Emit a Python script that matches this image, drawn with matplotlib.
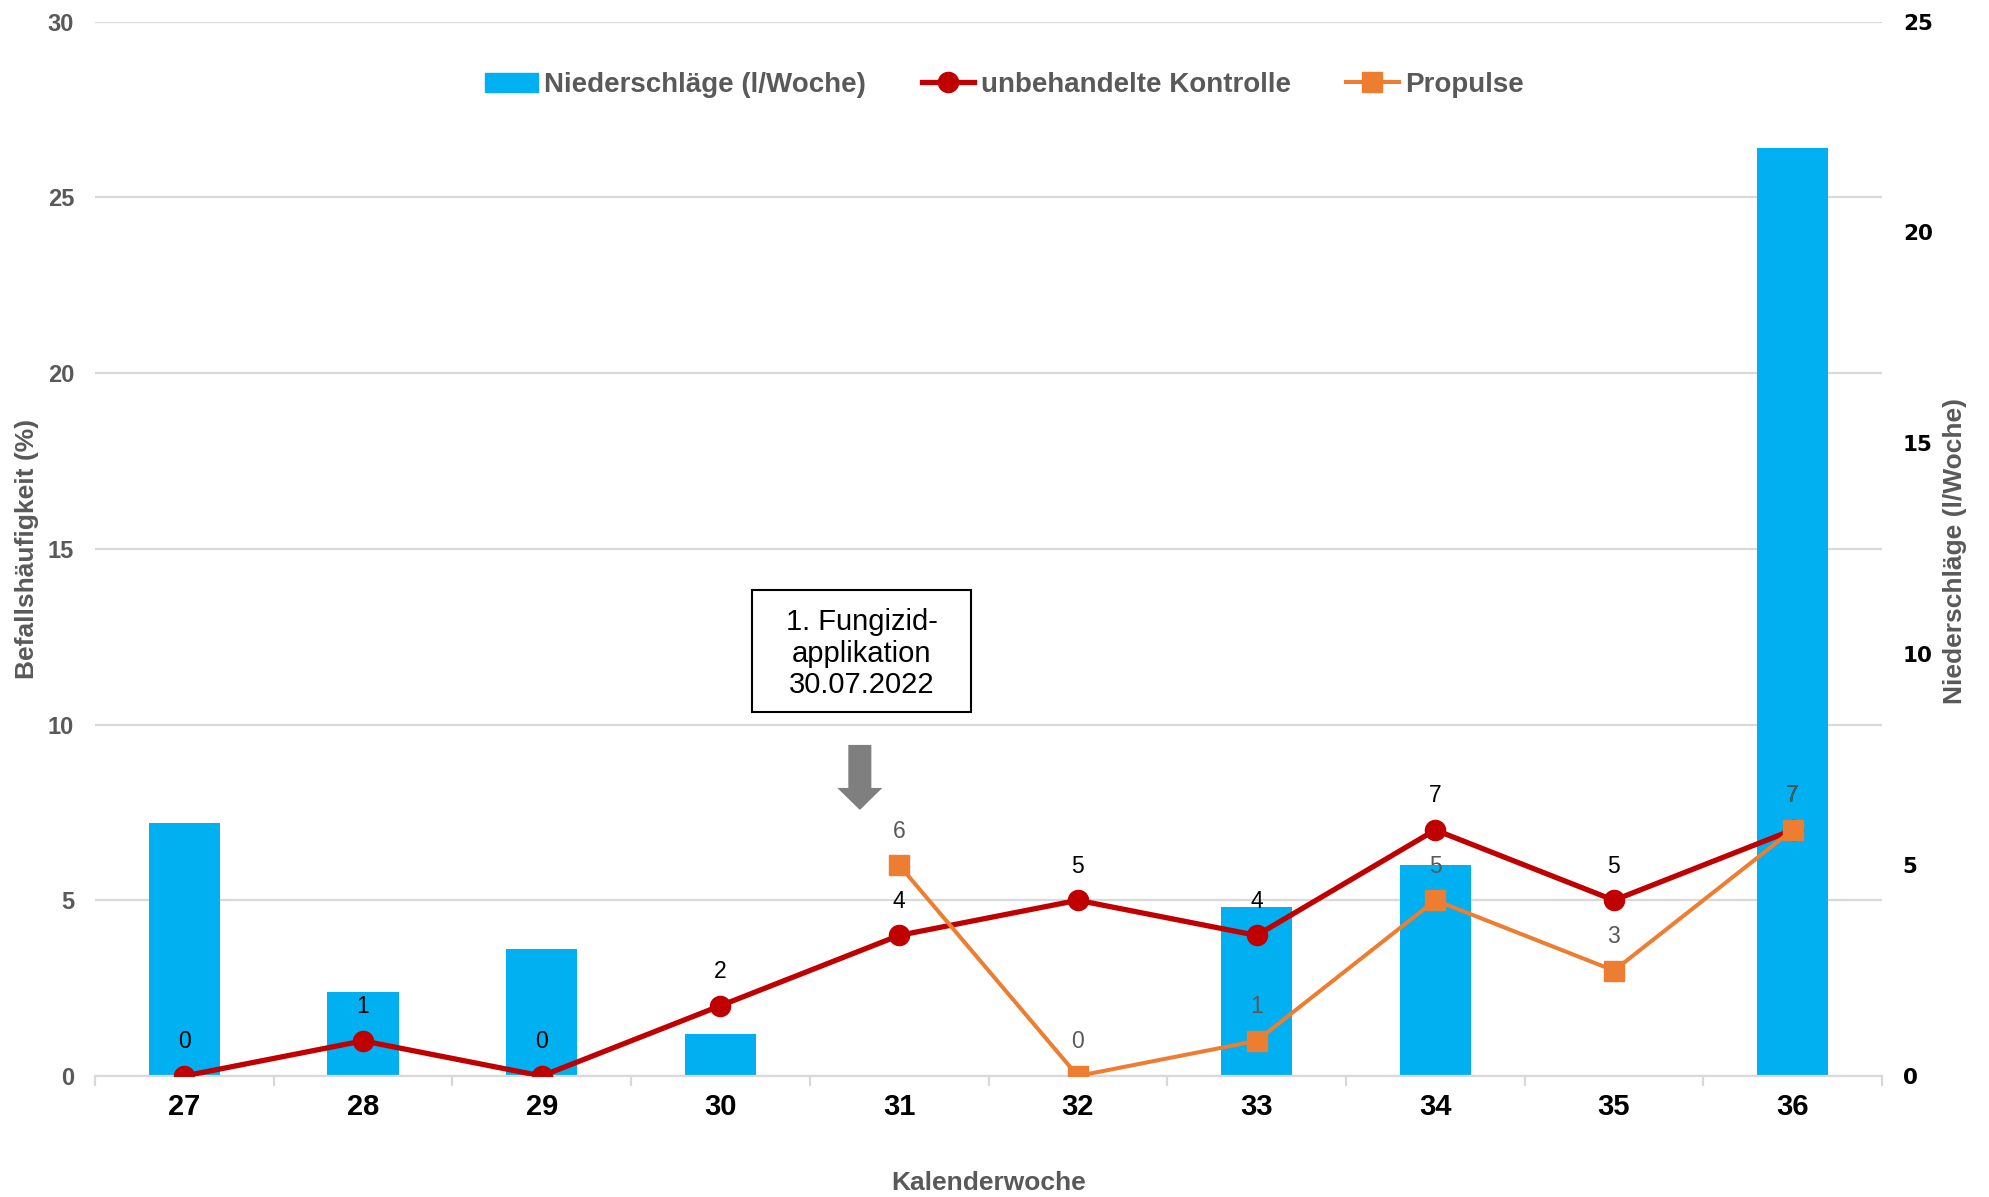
import matplotlib
matplotlib.use("Agg")
import matplotlib.pyplot as plt
import matplotlib.patches as mpatches
from matplotlib.lines import Line2D
from matplotlib import font_manager as fm
import numpy as np

# --- data -------------------------------------------------------------
weeks = ["27", "28", "29", "30", "31", "32", "33", "34", "35", "36"]
niederschlag = [6, 2, 3, 1, 0, 0, 4, 5, 0, 22]          # l/Woche (right axis)
kontrolle = [0, 1, 0, 2, 4, 5, 4, 7, 5, 7]              # Befallshäufigkeit %
propulse = [None, None, None, None, 6, 0, 1, 5, 3, 7]    # starts after application
left_ticks = [0, 5, 10, 15, 20, 25, 30]
right_ticks = [0, 5, 10, 15, 20, 25]

# --- style ------------------------------------------------------------
BLUE = "#00B0F0"
RED = "#C00000"
ORANGE = "#ED7D31"
GRAY = "#595959"
GRID = "#D9D9D9"

names = {f.name for f in fm.fontManager.ttflist}
SANS = "Liberation Sans" if "Liberation Sans" in names else "DejaVu Sans"
plt.rcParams["font.family"] = [SANS, "DejaVu Sans"]

W, H = 1990, 1197
fig = plt.figure(figsize=(W / 100, H / 100), dpi=100)
ax2 = fig.add_axes([95 / W, 1 - 1076 / H, (1882 - 95) / W, (1076 - 21.6) / H])
ax = ax2.twinx()
ax.yaxis.tick_left()
ax2.yaxis.tick_right()
ax.set_zorder(ax2.get_zorder() + 1)
ax.patch.set_visible(False)

x = np.arange(len(weeks))

# gridlines follow the left axis ticks, drawn behind the bars
for t in left_ticks:
    ax2.axhline(t * right_ticks[-1] / left_ticks[-1], color=GRID, lw=1.6, zorder=0)

ax2.bar(x, niederschlag, width=0.4, color=BLUE, zorder=2)
ax2.set_ylim(0, 25)
ax2.set_yticks(right_ticks)
ax2.set_xlim(-0.5, len(weeks) - 0.5)

ax.set_ylim(0, 30)
ax.set_yticks(left_ticks)
ax.set_xlim(-0.5, len(weeks) - 0.5)

xp = [i for i, v in enumerate(propulse) if v is not None]
yp = [v for v in propulse if v is not None]
ax.plot(x, kontrolle, color=RED, lw=3.8, marker="o", ms=14.5, zorder=3)
ax.plot(xp, yp, color=ORANGE, lw=2.9, marker="s", ms=14, zorder=4)

for xi, v in zip(x, kontrolle):
    ax.annotate(str(v), (xi, v), xytext=(0, 24.5), textcoords="offset points",
                ha="center", va="center", fontsize=16.5, color="black", zorder=5)
for xi, v in zip(xp, yp):
    ax.annotate(str(v), (xi, v), xytext=(0, 24.5), textcoords="offset points",
                ha="center", va="center", fontsize=16.5, color=GRAY, zorder=5)

# spines / ticks
for a in (ax, ax2):
    for s in ("top", "left", "right"):
        a.spines[s].set_visible(False)
    a.spines["bottom"].set_color(GRID)
    a.spines["bottom"].set_linewidth(1.6)
ax.spines["bottom"].set_visible(False)

ax2.set_xticks(x)
ax2.set_xticklabels(weeks)
ax2.set_xticks(np.arange(-0.5, len(weeks)), minor=True)
ax2.tick_params(axis="x", which="major", length=0, pad=12)
ax2.tick_params(axis="x", which="minor", length=7, width=1.6, color=GRID)
for lab in ax2.get_xticklabels():
    lab.set_fontweight("bold")
    lab.set_fontsize(21)
    lab.set_color("black")
ax.tick_params(axis="x", which="both", length=0, labelbottom=False)

ax.tick_params(axis="y", length=0, pad=15)
for lab in ax.get_yticklabels():
    lab.set_fontweight("bold")
    lab.set_fontsize(17)
    lab.set_color(GRAY)
ax2.tick_params(axis="y", length=0, pad=15)
for lab in ax2.get_yticklabels():
    lab.set_fontfamily("DejaVu Sans")
    lab.set_fontweight("bold")
    lab.set_fontsize(15.5)
    lab.set_color("black")

# axis titles
fig.text(27 / W, 1 - 549 / H, "Befallshäufigkeit (%)", rotation=90,
         ha="center", va="center", fontsize=19, fontweight="bold", color=GRAY)
fig.text(1955 / W, 1 - 551 / H, "Niederschläge (l/Woche)", rotation=90,
         ha="center", va="center", fontsize=19, fontweight="bold", color=GRAY)
fig.text(988.5 / W, 1 - 1183 / H, "Kalenderwoche", ha="center", va="center",
         fontsize=19, fontweight="bold", color=GRAY)

# application note with arrow
ax.add_patch(mpatches.Rectangle((3.177, 10.36), 1.225, 3.47, fill=False,
                                ec="black", lw=1.5, zorder=6))
ax.text(3.79, 12.02, "1. Fungizid-\napplikation\n30.07.2022", ha="center",
        va="center", fontsize=21, linespacing=1.16, color="black", zorder=7)
ax.add_patch(mpatches.FancyArrow(3.78, 9.42, 0, -1.85, width=0.129,
                                 head_width=0.252, head_length=0.626,
                                 length_includes_head=True, fc="#7F7F7F",
                                 ec="none", zorder=6))

# legend
handles = [
    mpatches.Patch(color=BLUE, label="Niederschläge (l/Woche)"),
    Line2D([], [], color=RED, lw=3.8, marker="o", ms=14.5,
           label="unbehandelte Kontrolle"),
    Line2D([], [], color=ORANGE, lw=2.9, marker="s", ms=14, label="Propulse"),
]
leg = fig.legend(handles=handles, loc="center", bbox_to_anchor=(1004.5 / W, 1 - 85 / H),
                 ncol=3, frameon=False, handlelength=1.9, handletextpad=0.22,
                 columnspacing=2.0,
                 prop={"weight": "bold", "size": 20})
for t in leg.get_texts():
    t.set_color(GRAY)

fig.savefig("out.png", dpi=100)
